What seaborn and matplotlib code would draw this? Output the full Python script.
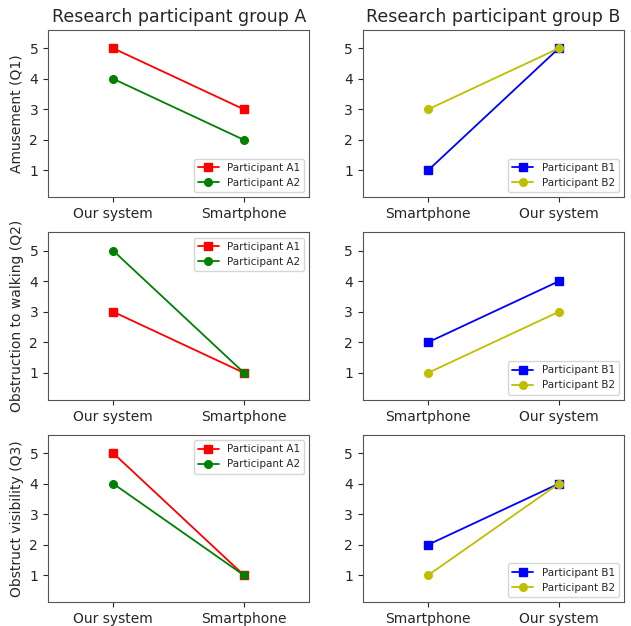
import matplotlib
matplotlib.use("Agg")
import matplotlib.pyplot as plt
import seaborn as sns
import pandas as pd

sns.set_style("ticks")
plt.rcParams['font.family'] = ['DejaVu Sans']

cats_a = ["Our system", "Smartphone"]
cats_b = ["Smartphone", "Our system"]
questions = ["Amusement (Q1)", "Obstruction to walking (Q2)", "Obstruct visibility (Q3)"]

a1 = [[5, 3], [3, 1], [5, 1]]
a2 = [[4, 2], [5, 1], [4, 1]]
b1 = [[1, 5], [2, 4], [2, 4]]
b2 = [[3, 5], [1, 3], [1, 4]]

legend_a = ["lower right", "upper right", "upper right"]
legend_b = ["lower right", "lower right", "lower right"]

fig, axes = plt.subplots(3, 2, figsize=(6.31, 6.26), dpi=100)
fig.subplots_adjust(left=0.076, right=0.989, top=0.952, bottom=0.038, wspace=0.203, hspace=0.21)

def draw(ax, cats, s1, s2, n1, n2, c1, c2, loc):
    sns.lineplot(x=cats, y=s1, ax=ax, color=c1, marker='s', label=n1, sort=False,
                 markeredgecolor=c1, markeredgewidth=1, markersize=5.5, linewidth=1.3)
    sns.lineplot(x=cats, y=s2, ax=ax, color=c2, marker='o', label=n2, sort=False,
                 markeredgecolor=c2, markeredgewidth=1, markersize=5.5, linewidth=1.3)
    ax.set_xlim(-0.5, 1.5)
    ax.set_ylim(0.12, 5.6)
    ax.set_yticks([1, 2, 3, 4, 5])
    ax.tick_params(labelsize=10)
    for sp in ax.spines.values():
        sp.set_color('#555555')
    ax.legend(loc=loc, fontsize=7.5)

for i in range(3):
    axl = axes[i, 0]
    axr = axes[i, 1]
    draw(axl, cats_a, a1[i], a2[i], "Participant A1", "Participant A2", 'r', 'g', legend_a[i])
    draw(axr, cats_b, b1[i], b2[i], "Participant B1", "Participant B2", 'b', 'y', legend_b[i])
    axl.set_ylabel(questions[i], fontsize=10)
    axr.set_ylabel("")

axes[0, 0].set_title("Research participant group A", fontsize=12.5)
axes[0, 1].set_title("Research participant group B", fontsize=12.5)

fig.savefig("out.png", dpi=100)
